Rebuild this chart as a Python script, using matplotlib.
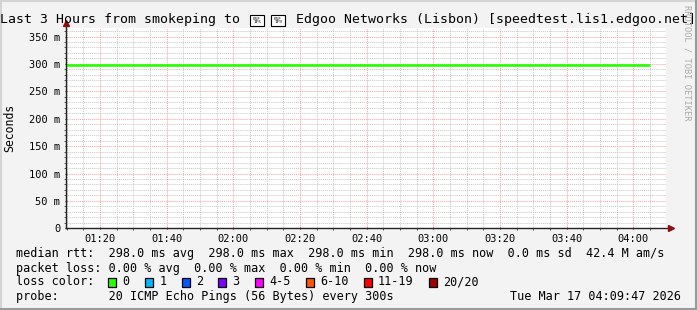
import matplotlib
matplotlib.use("Agg")
import matplotlib.pyplot as plt
from matplotlib.patches import Rectangle
from matplotlib.lines import Line2D

# ---------------- data ----------------
title_left = "Last 3 Hours from smokeping to"
title_flag_codes = ["01F\n1F5", "01F\n1F9"]   # regional indicator P, T (no installed glyph)
title_right = "Edgoo Networks (Lisbon) [speedtest.lis1.edgoo.net]"
sample_times = ["01:05", "01:10", "01:15", "01:20", "01:25", "01:30", "01:35", "01:40",
                "01:45", "01:50", "01:55", "02:00", "02:05", "02:10", "02:15", "02:20",
                "02:25", "02:30", "02:35", "02:40", "02:45", "02:50", "02:55", "03:00",
                "03:05", "03:10", "03:15", "03:20", "03:25", "03:30", "03:35", "03:40",
                "03:45", "03:50", "03:55", "04:00", "04:05"]
median_rtt_ms = [298.0, 298.0, 298.0, 298.0, 298.0, 298.0, 298.0, 298.0,
                 298.0, 298.0, 298.0, 298.0, 298.0, 298.0, 298.0, 298.0,
                 298.0, 298.0, 298.0, 298.0, 298.0, 298.0, 298.0, 298.0,
                 298.0, 298.0, 298.0, 298.0, 298.0, 298.0, 298.0, 298.0,
                 298.0, 298.0, 298.0, 298.0, 298.0]
x_tick_labels = ["01:20", "01:40", "02:00", "02:20", "02:40", "03:00", "03:20", "03:40", "04:00"]
y_tick_values = [0, 50, 100, 150, 200, 250, 300, 350]
y_tick_labels = ["0", "50 m", "100 m", "150 m", "200 m", "250 m", "300 m", "350 m"]
window_start = "01:09:47"
window_end = "04:09:47"
y_max_ms = 365

legend_rows = [
    "median rtt:  298.0 ms avg  298.0 ms max  298.0 ms min  298.0 ms now  0.0 ms sd  42.4 M am/s",
    "packet loss: 0.00 % avg  0.00 % max  0.00 % min  0.00 % now",
    "loss color:",
    "probe:       20 ICMP Echo Pings (56 Bytes) every 300s",
]
loss_labels = ["0", "1", "2", "3", "4-5", "6-10", "11-19", "20/20"]
loss_colors = ["#26ff00", "#00b8ff", "#0059ff", "#7e00ff", "#ff00ff", "#ff5500", "#ff0000", "#a10000"]
timestamp = "Tue Mar 17 04:09:47 2026"
watermark = "RRDTOOL / TOBI OETIKER"


def to_min(s):
    parts = [int(p) for p in s.split(":")]
    while len(parts) < 3:
        parts.append(0)
    return parts[0] * 60 + parts[1] + parts[2] / 60.0


# ---------------- figure ----------------
W, H = 697, 310
fig = plt.figure(figsize=(W / 100, H / 100), dpi=100, facecolor="#f3f3f3")
MONO = "DejaVu Sans Mono"


def fx(px):
    return px / W


def fy(py):
    return 1 - py / H


# bevel border
fig.add_artist(Line2D([fx(0.5), fx(0.5)], [fy(0), fy(H)], color="#d4d4d4", lw=1.5))
fig.add_artist(Line2D([fx(0), fx(W)], [fy(0.5), fy(0.5)], color="#d4d4d4", lw=1.5))
fig.add_artist(Line2D([fx(W - 1), fx(W - 1)], [fy(0), fy(H)], color="#9a9a9a", lw=1.5))
fig.add_artist(Line2D([fx(0), fx(W)], [fy(H - 1), fy(H - 1)], color="#9a9a9a", lw=1.5))

left_px, right_px, top_px, bot_px = 66, 666, 28.3, 228.3
ax = fig.add_axes([fx(left_px), fy(bot_px), fx(right_px - left_px), (bot_px - top_px) / H])
ax.set_facecolor("white")
x0, x1 = to_min(window_start), to_min(window_end)
ax.set_xlim(x0, x1)
ax.set_ylim(0, y_max_ms)

# grid
minor_x = [m for m in range(70, 250, 5)]
major_x = [to_min(t) for t in x_tick_labels]
for m in minor_x:
    if m not in major_x:
        ax.axvline(m, color="#c8c8c8", lw=0.7, ls=(0, (1, 1)), zorder=1)
for v in range(10, y_max_ms, 10):
    if v not in y_tick_values:
        ax.axhline(v, color="#c8c8c8", lw=0.7, ls=(0, (1, 1)), zorder=1)
for m in major_x:
    ax.axvline(m, color="#ff9e9e", lw=0.7, ls=(0, (1, 1)), zorder=2)
for v in y_tick_values[1:]:
    ax.axhline(v, color="#ff9e9e", lw=0.7, ls=(0, (1, 1)), zorder=2)

# data line
ax.plot([to_min(t) for t in sample_times], median_rtt_ms, drawstyle="steps-pre",
        color=loss_colors[0], lw=1.9, zorder=5, solid_capstyle="butt")

for s in ax.spines.values():
    s.set_visible(False)

# axes lines + arrows
ax.plot([x0, x1 + (x1 - x0) * 4 / 600], [0, 0], color="#222222", lw=1.0, clip_on=False, zorder=6)
ax.plot([x0, x0], [0, y_max_ms + y_max_ms * 4 / 200], color="#222222", lw=1.0, clip_on=False, zorder=6)
ax.plot([x1 + (x1 - x0) * 5 / 600], [0], marker=">", color="#8b1010", ms=5, clip_on=False, zorder=7)
ax.plot([x0], [y_max_ms + y_max_ms * 5 / 200], marker="^", color="#8b1010", ms=5, clip_on=False, zorder=7)

ax.set_xticks(major_x)
ax.set_xticklabels(x_tick_labels, fontfamily=MONO, fontsize=7.5)
ax.set_xticks(minor_x, minor=True)
ax.set_yticks(y_tick_values)
ax.set_yticklabels(y_tick_labels, fontfamily=MONO, fontsize=7.5)
ax.set_yticks([v for v in range(10, y_max_ms, 10)], minor=True)
ax.tick_params(axis="both", which="major", length=2, width=0.8, color="#222222", direction="inout", pad=3)
ax.tick_params(axis="both", which="minor", length=1.5, width=0.6, color="#444444", direction="out")
ax.tick_params(axis="x", which="major", pad=3)

# title: text + tofu-style boxes for the flag (no installed font has these glyphs)
fig.text(fx(0.5), fy(19), title_left, family=MONO, fontsize=9.5, ha="left", va="center")
for bx, code in zip([250, 271], title_flag_codes):
    fig.add_artist(Rectangle((fx(bx), fy(25.5)), fx(14), 10.5 / H, facecolor="white",
                             edgecolor="black", lw=0.8, transform=fig.transFigure))
    fig.text(fx(bx + 7), fy(20.5), code, family=MONO, fontsize=3.2, ha="center", va="center",
             linespacing=0.9)
fig.text(fx(295.8), fy(19), title_right, family=MONO, fontsize=9.5, ha="left", va="center")

fig.text(fx(10), fy(128), "Seconds", family=MONO, fontsize=8.3, rotation=90, ha="center", va="center")
fig.text(fx(687.5), fy(5), watermark, family=MONO, fontsize=6.2, rotation=270, ha="center", va="top",
         color="#a8a8a8")

# legend
cw = 7.11
row_y = [254, 268.3, 281.7, 296.3]
for txt, yy in zip(legend_rows, row_y):
    fig.text(fx(16), fy(yy), txt, family=MONO, fontsize=8.5, ha="left", va="center")
col = 13.0
for lab, colr in zip(loss_labels, loss_colors):
    bx = 16 + col * cw
    fig.add_artist(Rectangle((fx(bx), fy(286.5)), fx(8), 9 / H,
                             facecolor=colr, edgecolor="black", lw=0.9, transform=fig.transFigure))
    fig.text(fx(16 + (col + 2) * cw), fy(281.7), lab, family=MONO, fontsize=8.5, ha="left", va="center")
    col += len(lab) + 4.15
fig.text(fx(681), fy(296.3), timestamp, family=MONO, fontsize=8.5, ha="right", va="center")

fig.savefig("out.png", dpi=100, facecolor=fig.get_facecolor())
